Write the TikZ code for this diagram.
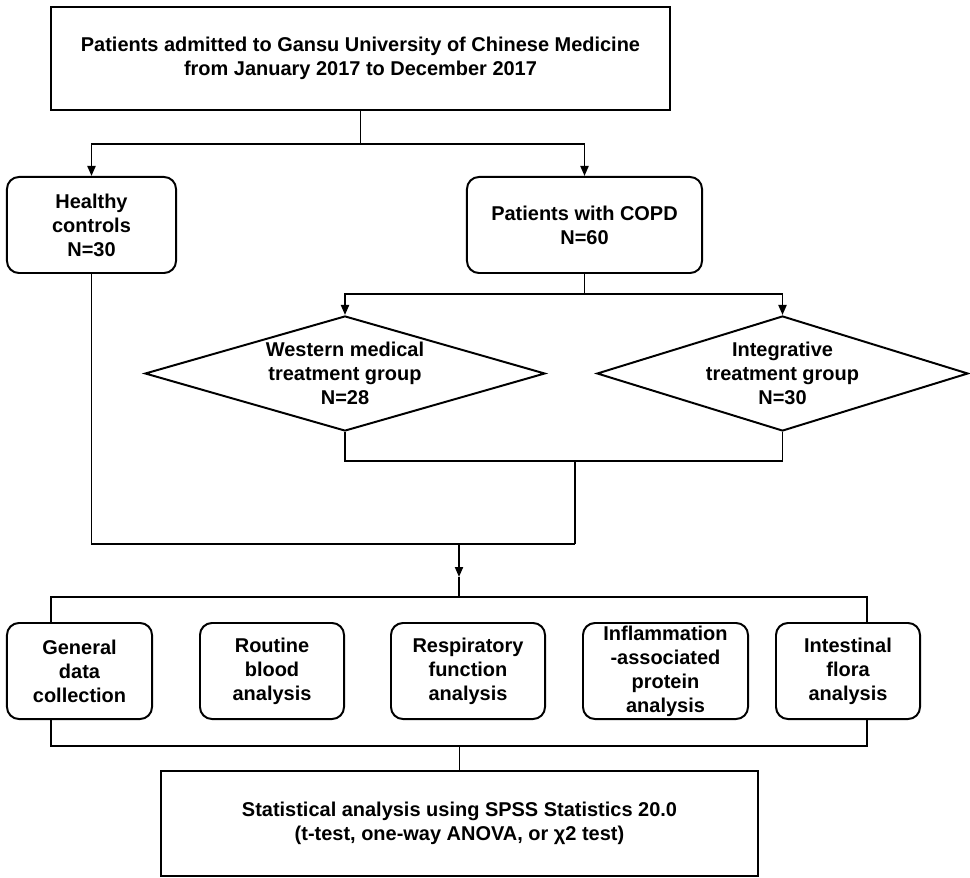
\documentclass[tikz,border=0pt]{standalone}
\usepackage{fontspec}
\setmainfont{Liberation Sans}
\usetikzlibrary{arrows.meta,shapes.geometric}

\begin{document}
\begin{tikzpicture}[x=0.025cm,y=-0.025cm,line width=1.4pt,
        font=\fontsize{14.2}{17.1}\selectfont\bfseries,
        box/.style={draw,align=center,inner sep=0pt},
        rbox/.style={box,rounded corners=0.3cm},
        dia/.style={draw,diamond,align=center,inner sep=0pt},
        arw/.style={-{Triangle[length=0.25cm,width=0.2cm]}}]
            \useasboundingbox (0,0) rectangle (970,878);
            \node[box,minimum width=15.475cm,minimum height=2.575cm] (adm) at (360.5,58.5) {Patients admitted to Gansu University of Chinese Medicine\\from January 2017 to December 2017};
            \node[rbox,minimum width=4.225cm,minimum height=2.4cm] (hc) at (91.5,225) {Healthy\\controls\\N=30};
            \node[rbox,minimum width=5.875cm,minimum height=2.4cm] (copd) at (584.5,225) {Patients with COPD\\N=60};
            \node[dia,aspect=3.4,minimum width=10cm,minimum height=2.875cm] (wm) at (345,373.5) {Western medical\\treatment group\\N=28};
            \node[dia,aspect=3.2,minimum width=9.275cm,minimum height=2.875cm] (it) at (782.5,373.5) {Integrative\\treatment group\\N=30};
            \node[rbox,minimum width=3.625cm,minimum height=2.4cm] (gd) at (79.5,671) {General\\data\\collection};
            \node[rbox,minimum width=3.6cm,minimum height=2.4cm] (rb) at (272,671) {Routine\\blood\\analysis};
            \node[rbox,minimum width=3.85cm,minimum height=2.4cm] (rf) at (468,671) {Respiratory\\function\\analysis};
            \node[rbox,minimum width=4.125cm,minimum height=2.4cm] (ip) at (665.5,671) {Inflammation\\-associated\\protein\\analysis};
            \node[rbox,minimum width=3.6cm,minimum height=2.4cm] (fl) at (848,671) {Intestinal\\flora\\analysis};
            \node[box,minimum width=14.925cm,minimum height=2.625cm] (stat) at (459.5,823.5) {Statistical analysis using SPSS Statistics 20.0\\(t-test, one-way ANOVA, or \char"03C7 2 test)};
            \coordinate (s1) at (360.5,144);
            \coordinate (s2) at (584.5,294);
            \coordinate (m1) at (575,461);
            \coordinate (m2) at (575,544);
            \coordinate (j1) at (459,544);
            \coordinate (mid) at (459,577);
            \coordinate (j2) at (459,597);
            \coordinate (b1) at (51,597);
            \coordinate (b2) at (867,597);
            \coordinate (c1) at (51,746);
            \coordinate (c2) at (867,746);
            \draw (adm.south) -- (s1);
            \draw[arw] (s1) -| (hc.north);
            \draw[arw] (s1) -| (copd.north);
            \draw (copd.south) -- (s2);
            \draw[arw] (s2) -| (wm.north);
            \draw[arw] (s2) -| (it.north);
            \draw (wm.south) -- (wm.south |- m1) -- (it.south |- m1) -- (it.south);
            \draw (m1) -- (m2);
            \draw (hc.south) |- (m2);
            \draw[arw] (j1) -- (mid);
            \draw (mid) -- (j2);
            \draw (b1 |- gd.north) -- (b1) -- (b2) -- (b2 |- fl.north);
            \draw (c1 |- gd.south) -- (c1) -- (c2) -- (c2 |- fl.south);
            \draw (stat.north |- c1) -- (stat.north);
        \end{tikzpicture}
\end{document}
